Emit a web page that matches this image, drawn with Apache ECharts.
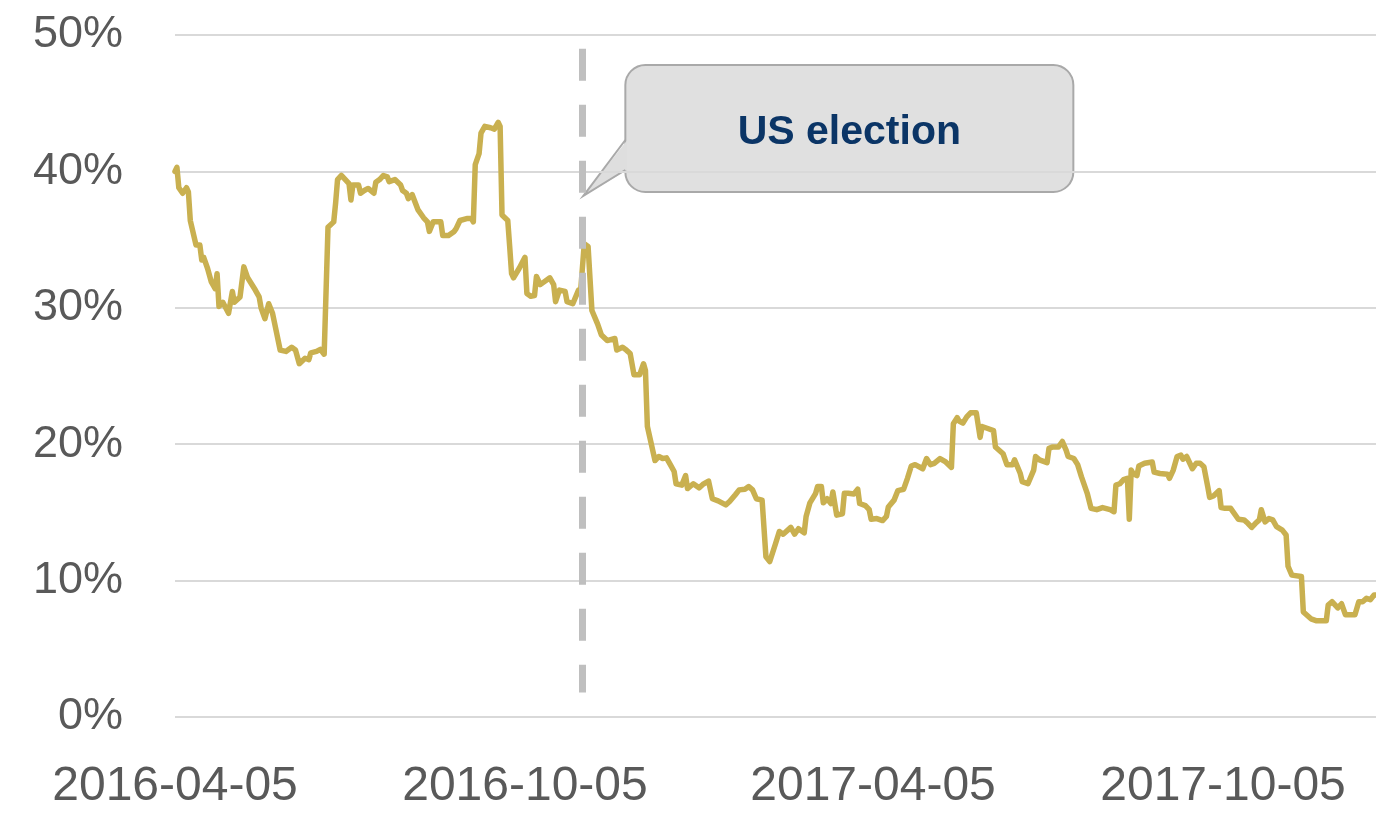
<!DOCTYPE html>
<html>
<head>
<meta charset="utf-8">
<script src="https://cdn.jsdelivr.net/npm/echarts@6/dist/echarts.min.js"></script>
<style>
  html, body { margin: 0; padding: 0; background: #fff; }
  #chart { width: 1376px; height: 813px; }
</style>
</head>
<body>
<div id="chart"></div>
<script>
// first day on the axis, and how many calendar days it covers
const startDate = '2016-04-05'
const dayCount = 629

// tick labels shown on the date axis
const tickLabels = ['2016-04-05', '2016-10-05', '2017-04-05', '2017-10-05']

// y axis ticks (%)
const yTicks = [0, 10, 20, 30, 40, 50]

// observations: days since startDate, value in %
const dayIndex = [
  0, 1, 2, 4, 6, 7, 8, 11, 13, 14,
  15, 17, 19, 21, 22, 23, 25, 28, 30, 31,
  34, 36, 38, 42, 44, 45, 47, 49, 51, 55,
  58, 61, 63, 64, 65, 68, 70, 71, 74, 76,
  78, 80, 83, 84, 85, 87, 91, 92, 93, 96,
  97, 99, 101, 104, 105, 107, 109, 111, 112, 115,
  118, 119, 121, 122, 124, 125, 127, 128, 130, 132,
  133, 135, 139, 140, 143, 146, 147, 149, 153, 155,
  156, 157, 159, 160, 162, 165, 167, 169, 170, 171,
  174, 175, 176, 177, 180, 183, 184, 186, 188, 189,
  191, 193, 196, 198, 199, 201, 204, 205, 208, 211,
  212, 214, 216, 218, 221, 223, 226, 227, 230, 231,
  234, 236, 238, 240, 243, 245, 246, 247, 251, 253,
  255, 257, 259, 261, 262, 265, 267, 268, 271, 274,
  276, 279, 281, 284, 288, 290, 293, 295, 298, 300,
  302, 304, 307, 308, 309, 311, 314, 316, 318, 322,
  324, 326, 329, 330, 332, 335, 336, 338, 339, 341,
  343, 344, 346, 349, 350, 352, 355, 357, 358, 361,
  363, 364, 367, 370, 372, 373, 376, 378, 381, 383,
  385, 387, 388, 391, 393, 395, 397, 400, 403, 406,
  407, 409, 410, 412, 414, 416, 419, 421, 422, 425,
  428, 429, 433, 435, 438, 439, 442, 443, 446, 449,
  450, 452, 456, 457, 459, 462, 464, 466, 467, 470,
  472, 474, 477, 479, 482, 485, 489, 491, 492, 494,
  496, 498, 499, 500, 501, 503, 504, 507, 511, 512,
  515, 519, 520, 522, 524, 526, 527, 529, 532, 534,
  536, 538, 540, 541, 543, 546, 547, 549, 552, 555,
  556, 559, 561, 563, 565, 567, 568, 570, 572, 574,
  576, 579, 581, 582, 583, 584, 589, 590, 591, 594,
  597, 602, 603, 605, 608, 610, 612, 614, 617, 619,
  621, 623, 625, 627, 628
]

const values = [
  40.0, 40.3, 38.8, 38.4, 38.8, 38.5, 36.4, 34.6, 34.6, 33.5,
  33.7, 32.9, 31.9, 31.4, 32.5, 30.1, 30.4, 29.6, 31.2, 30.4,
  30.8, 33.0, 32.2, 31.3, 30.8, 30.0, 29.2, 30.3, 29.6, 26.9,
  26.8, 27.1, 26.9, 27.0, 25.9, 26.3, 26.2, 26.7, 26.8, 26.95,
  26.6, 35.9, 36.3, 37.7, 39.4, 39.7, 39.1, 37.9, 39.0, 39.0,
  38.4, 38.6, 38.75, 38.4, 39.2, 39.4, 39.7, 39.6, 39.25, 39.4,
  39.0, 38.6, 38.4, 38.0, 38.3, 38.3, 37.2, 37.2, 36.6, 36.3,
  35.6, 36.3, 36.3, 35.3, 35.3, 35.6, 35.8, 36.4, 36.55, 36.55,
  36.3, 40.5, 41.3, 42.8, 43.3, 43.2, 43.1, 43.6, 43.3, 36.8,
  36.4, 34.5, 32.5, 32.2, 32.9, 33.7, 31.05, 30.85, 30.9, 32.3,
  31.7, 31.9, 32.2, 31.7, 30.45, 31.3, 31.2, 30.45, 30.3, 31.3,
  31.05, 34.7, 34.5, 29.8, 28.8, 28.0, 27.6, 27.6, 27.75, 26.9,
  27.1, 26.9, 26.65, 25.1, 25.1, 25.9, 25.4, 21.3, 18.8, 19.1,
  18.95, 19.0, 18.5, 18.0, 17.1, 17.0, 17.7, 16.75, 17.1, 16.8,
  17.05, 17.3, 16.0, 15.85, 15.55, 15.8, 16.3, 16.65, 16.7, 16.9,
  16.65, 16.0, 15.9, 15.8, 11.75, 11.4, 12.7, 13.6, 13.4, 13.9,
  13.4, 13.8, 13.5, 14.7, 15.7, 16.4, 16.9, 16.9, 15.7, 16.0,
  15.65, 16.5, 14.8, 14.9, 16.4, 16.4, 16.35, 16.7, 15.65, 15.5,
  15.2, 14.5, 14.55, 14.4, 14.7, 15.4, 15.9, 16.6, 16.7, 17.5,
  18.4, 18.5, 18.6, 18.2, 18.95, 18.5, 18.6, 18.95, 18.7, 18.3,
  21.5, 21.95, 21.7, 21.55, 22.0, 22.3, 22.3, 20.5, 21.3, 21.15,
  21.0, 19.8, 19.3, 18.5, 18.5, 18.85, 17.85, 17.25, 17.1, 18.1,
  19.1, 18.85, 18.65, 19.7, 19.8, 19.8, 20.2, 19.55, 19.1, 18.95,
  18.5, 17.6, 16.4, 15.3, 15.2, 15.35, 15.2, 15.05, 17.0, 17.1,
  17.4, 17.5, 14.5, 18.1, 17.85, 17.7, 18.4, 18.6, 18.7, 17.95,
  17.85, 17.8, 17.5, 18.1, 19.1, 19.2, 18.9, 19.1, 18.2, 18.6,
  18.6, 18.35, 16.9, 16.1, 16.2, 16.6, 15.35, 15.3, 15.3, 14.7,
  14.5, 14.45, 14.2, 13.9, 14.2, 14.45, 15.2, 14.3, 14.55, 14.45,
  13.95, 13.7, 13.35, 11.05, 11.0, 10.4, 10.3, 7.7, 7.8, 7.2,
  7.05, 7.05, 8.2, 8.45, 8.0, 8.3, 7.5, 7.5, 7.5, 8.45,
  8.45, 8.7, 8.6, 8.95, 8.95
]

// election marker: where the dashed line sits, and its vertical extent (%)
const electionDay = '2016-11-04'
const electionSpan = [49.0, 1.8]
const calloutText = 'US election'

// one category per calendar day
const categories = []
const t0 = Date.parse(startDate + 'T00:00:00Z')
for (let i = 0; i < dayCount; i++) {
  categories.push(new Date(t0 + i * 86400000).toISOString().slice(0, 10))
}

const seriesData = dayIndex.map((d, i) => [d, values[i]])

const FONT = '"Liberation Sans", Arial, sans-serif'
const chart = echarts.init(document.getElementById('chart'), null, { renderer: 'canvas' })

chart.setOption({
  animation: false,
  backgroundColor: '#ffffff',
  grid: { left: 175, right: 0, top: 35, bottom: 96, containLabel: false },
  xAxis: {
    type: 'category',
    data: categories,
    boundaryGap: false,
    axisLine: { show: false },
    axisTick: { show: false },
    axisLabel: {
      interval: (idx, value) => tickLabels.includes(value),
      color: '#595959',
      fontFamily: FONT,
      fontSize: 48,
      margin: 46
    },
    splitLine: { show: false }
  },
  yAxis: {
    type: 'value',
    min: yTicks[0],
    max: yTicks[yTicks.length - 1],
    interval: 10,
    axisLine: { show: false },
    axisTick: { show: false },
    axisLabel: {
      formatter: '{value}%',
      color: '#595959',
      fontFamily: FONT,
      fontSize: 45,
      margin: 52
    },
    splitLine: { lineStyle: { color: '#d9d9d9', width: 2 } }
  },
  series: [
    {
      type: 'line',
      data: seriesData,
      showSymbol: false,
      symbol: 'none',
      lineStyle: { color: '#c9b050', width: 5.5, join: 'round', cap: 'round' },
      z: 3,
      markLine: {
        silent: true,
        symbol: ['none', 'none'],
        label: { show: false },
        lineStyle: { color: '#bfbfbf', width: 7, type: [32, 24], opacity: 1 },
        data: [[
          { coord: [electionDay, electionSpan[0]] },
          { coord: [electionDay, electionSpan[1]] }
        ]]
      }
    }
  ]
})

// callout box anchored to the election marker
const tip = chart.convertToPixel({ gridIndex: 0 }, [electionDay, 38.2])
const tx = tip[0] + 1, ty = tip[1]
const bx = tx + 42, by = 65, bw = 448, bh = 127
const fill = 'rgba(222,222,222,0.93)'
const edge = '#a9a9a9'

chart.setOption({
  graphic: [
    {
      type: 'rect',
      z: -2,
      shape: { x: bx, y: by, width: bw, height: bh, r: 20 },
      style: { fill: fill, stroke: edge, lineWidth: 2 }
    },
    {
      type: 'polygon',
      z: -1,
      shape: { points: [[bx + 2, by + 105], [tx, ty], [bx + 2, by + 75]] },
      style: { fill: 'rgb(222,222,222)', stroke: null }
    },
    {
      type: 'polyline',
      z: -1,
      shape: { points: [[bx, by + 105], [tx, ty], [bx, by + 75]] },
      style: { stroke: edge, lineWidth: 2, fill: null }
    },
    {
      type: 'text',
      z: 5,
      x: bx + bw / 2,
      y: by + bh / 2 + 4,
      style: {
        text: calloutText,
        font: 'bold 41px ' + FONT,
        fill: '#0b3566',
        align: 'center',
        verticalAlign: 'middle'
      }
    }
  ]
})

window.addEventListener('resize', () => chart.resize())
</script>
</body>
</html>
